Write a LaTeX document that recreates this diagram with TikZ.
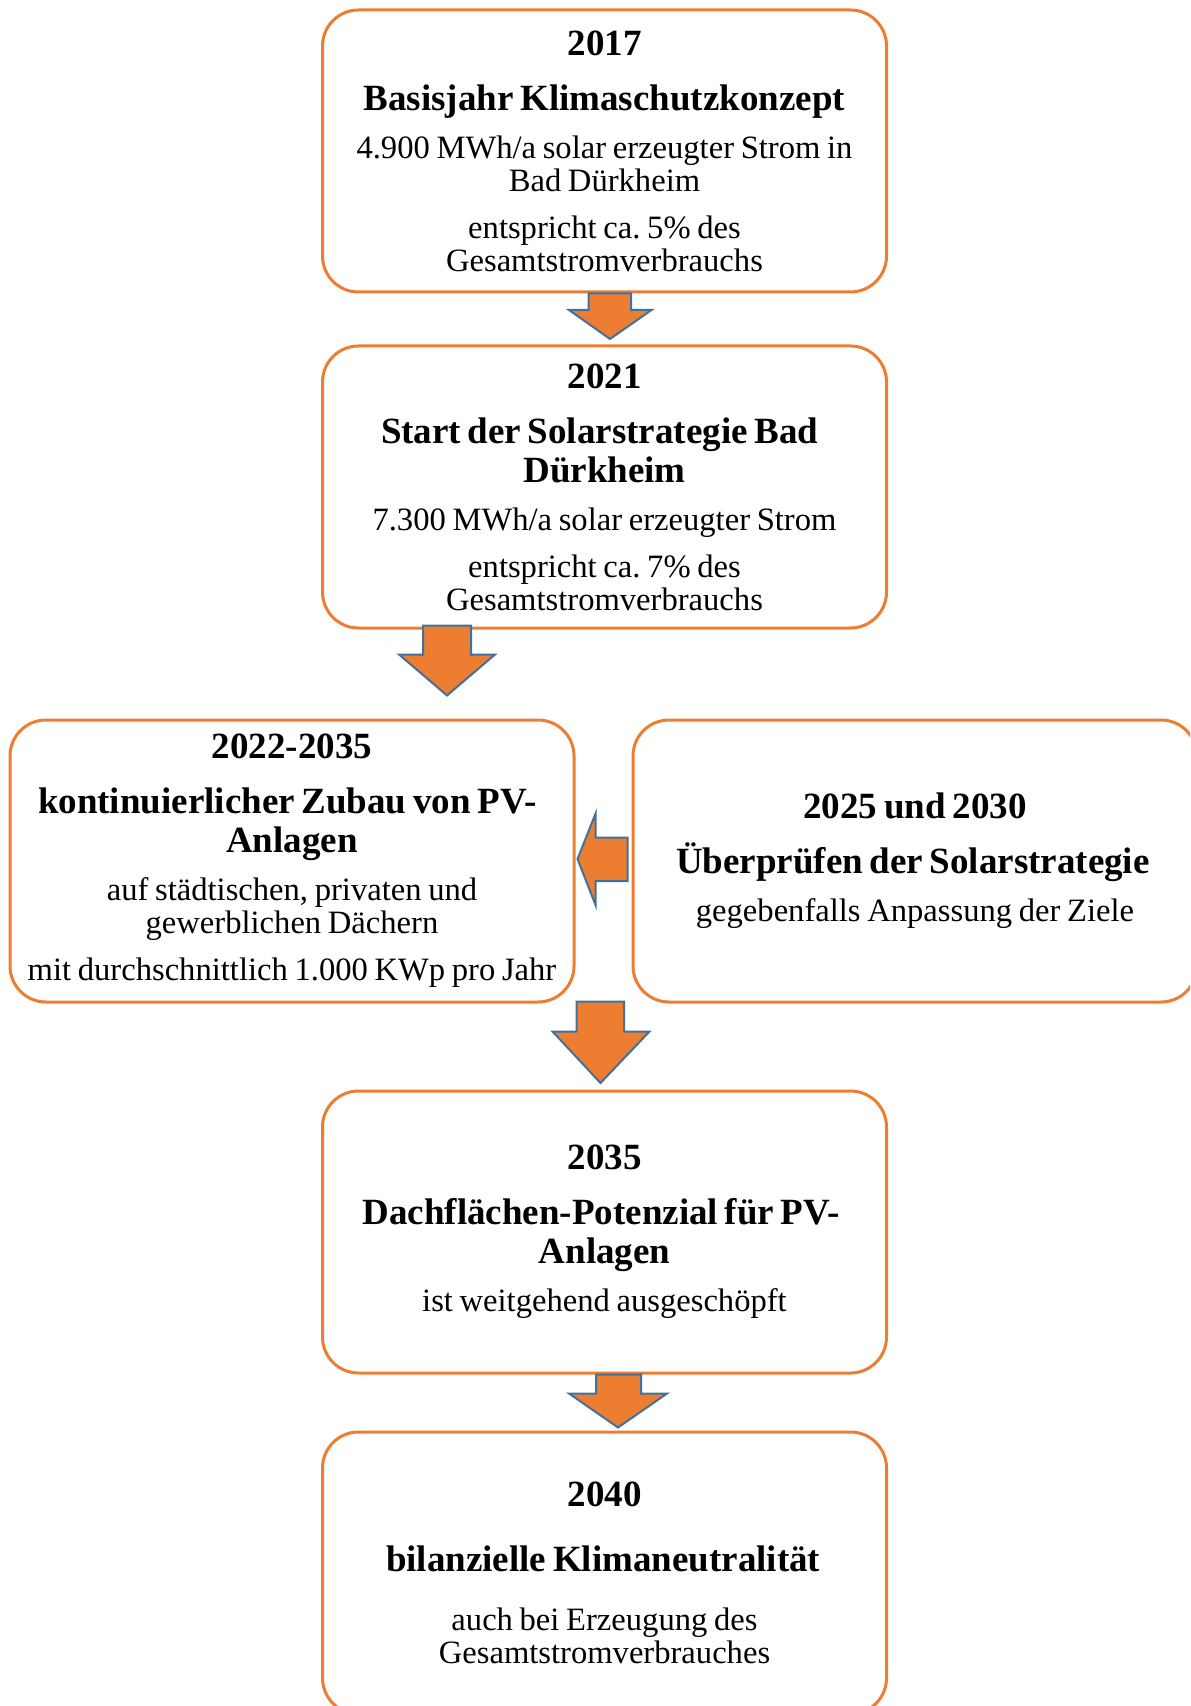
\documentclass[tikz,border=0pt]{standalone}
\usepackage{fontspec}
\setmainfont{Liberation Serif}
\frenchspacing
\definecolor{boxorange}{HTML}{ED7D31}
\definecolor{arrowblue}{HTML}{41719C}
\newcommand{\yearfont}{\normalfont\fontsize{18.5}{19.5}\selectfont\bfseries}
\newcommand{\bodyfont}{\normalfont\fontsize{16.3}{16.5}\selectfont}
\newcommand{\spread}[2]{\makebox[#1][s]{#2}}
\tikzset{
  stage/.style={draw=boxorange, line width=1.5pt, rounded corners=18pt, fill=white,
    minimum width=282pt, minimum height=141pt, text width=276pt, align=center, inner sep=0pt},
  blockarrow/.style={draw=arrowblue, fill=boxorange, line width=1pt, line join=miter}
}
\begin{document}
\begin{tikzpicture}[x=0.5pt, y=-0.5pt]
\useasboundingbox (0,0) rectangle (1190,1706);
\clip (0,0) rectangle (1190,1706);
\fill[white] (0,0) rectangle (1190,1706);
\node[stage] (b1) at (604.5,151) {\yearfont 2017\par\vspace{8pt}
  \spread{241pt}{Basisjahr Klimaschutzkonzept}\par\vspace{7.5pt}
  \bodyfont 4.900 MWh/a solar erzeugter Strom in\\Bad Dürkheim\par\vspace{7pt}
  entspricht ca. 5\% des\\Gesamtstromverbrauchs\par};
\node[stage] (b2) at (604.5,487) {\yearfont 2021\par\vspace{8pt}
  \spread{223.5pt}{Start der Solarstrategie Bad}\\Dürkheim\par\vspace{7.5pt}
  \bodyfont 7.300 MWh/a solar erzeugter Strom\par\vspace{7pt}
  entspricht ca. 7\% des\\Gesamtstromverbrauchs\par};
\node[stage] (b3) at (292,861) {\yearfont 2022-2035\par\vspace{8pt}
  \spread{254pt}{kontinuierlicher Zubau von PV-}\\Anlagen\par\vspace{7.5pt}
  \bodyfont auf städtischen, privaten und\\gewerblichen Dächern\par\vspace{7pt}
  mit durchschnittlich 1.000 KWp pro Jahr\par};
\node[stage] (b4) at (915,861) {\yearfont 2025 und 2030\par\vspace{8pt}
  \spread{239pt}{Überprüfen der Solarstrategie}\par\vspace{7.5pt}
  \bodyfont gegebenfalls Anpassung der Ziele\par};
\node[stage] (b5) at (604.5,1232) {\yearfont 2035\par\vspace{8pt}
  \spread{242pt}{Dachflächen-Potenzial für PV-}\\Anlagen\par\vspace{7.5pt}
  \bodyfont ist weitgehend ausgeschöpft\par};
\node[stage] (b6) at (604.5,1573) {\yearfont 2040\par\vspace{13pt}
  \spread{218.5pt}{bilanzielle Klimaneutralität}\par\vspace{13pt}
  \bodyfont auch bei Erzeugung des\\Gesamtstromverbrauches\par};
\filldraw[blockarrow, shift={(b1.south)}] (-16,0) -- (26.5,0) -- (26.5,16.5) -- (47,16.5) -- (5.5,45.5) -- (-35.5,16.5) -- (-16,16.5) -- cycle;
\filldraw[blockarrow, shift={(b2.south)}] (-181.5,-4) -- (-133.5,-4) -- (-133.5,25) -- (-109.5,25) -- (-157.5,66) -- (-205.5,25) -- (-181.5,25) -- cycle;
\filldraw[blockarrow, shift={(b4.west)}] (-4,-23.4) -- (-4,20) -- (-36,20) -- (-36,44) -- (-54,-2) -- (-36,-47.3) -- (-36,-23.4) -- cycle;
\filldraw[blockarrow, shift={(b5.north)}] (-28,-88) -- (19.5,-88) -- (19.5,-58) -- (45,-58) -- (-4,-6.5) -- (-52,-58) -- (-28,-58) -- cycle;
\filldraw[blockarrow, shift={(b5.south)}] (-8.5,0) -- (36.5,0) -- (36.5,19) -- (62.5,19) -- (13.5,53) -- (-35.5,19) -- (-8.5,19) -- cycle;
\end{tikzpicture}
\end{document}
